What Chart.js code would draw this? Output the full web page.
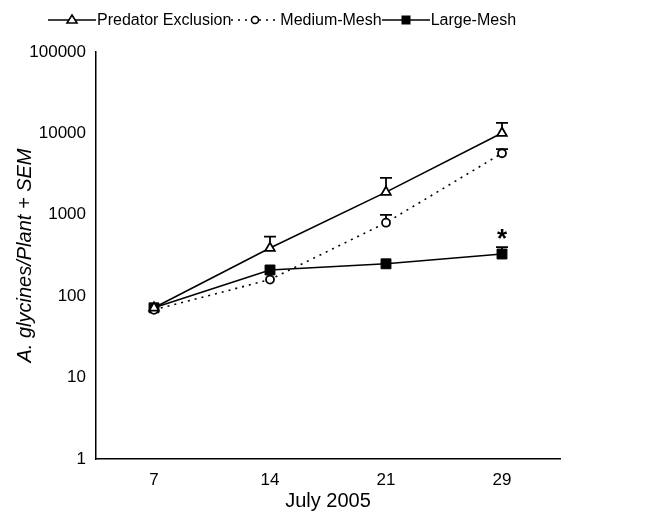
<!DOCTYPE html>
<html>
<head>
<meta charset="utf-8">
<script src="https://cdn.jsdelivr.net/npm/chart.js@4"></script>
<style>
  html, body { margin: 0; padding: 0; background: #fff; }
  #wrap { position: relative; width: 653px; height: 511px; }
  #legend { position: absolute; left: 48px; top: 10px; display: flex; align-items: center;
            font-family: 'Liberation Sans', Arial, sans-serif; font-size: 16px; color: #000; }
  #legend .item { display: flex; align-items: center; }
  #legend span { margin-left: 1px; line-height: 20px; }
</style>
</head>
<body>
<div id="wrap">
  <canvas id="aphidChart" width="653" height="511"></canvas>
  <div id="legend"></div>
</div>
<script>
// Sample dates (July 2005)
const days = ['7', '14', '21', '29'];

// Mean A. glycines per plant
const predatorExclusion = [72, 390, 1900, 10100];
const mediumMesh = [68, 160, 800, 5700];
const largeMesh = [72, 210, 250, 330];

// Mean + SEM (top of error bar)
const predatorExclusionTop = [72, 540, 2850, 13500];
const mediumMeshTop = [68, 160, 1000, 6400];
const largeMeshTop = [72, 210, 250, 400];

// Significance marks
const sigMarks = ['', '', '', '*'];

const yTicks = [1, 10, 100, 1000, 10000, 100000];

const FONT = "'Liberation Sans', Arial, sans-serif";
Chart.defaults.font.family = FONT;
Chart.defaults.color = '#000';

const datasets = [
    {
        label: 'Predator Exclusion',
        data: predatorExclusion,
        errTop: predatorExclusionTop,
        borderColor: '#000',
        borderWidth: 1.6,
        pointStyle: 'triangle',
        pointRadius: 5.5,
        pointBackgroundColor: '#fff',
        pointBorderColor: '#000',
        pointBorderWidth: 1.8,
        fill: false
    },
    {
        label: 'Medium-Mesh',
        data: mediumMesh,
        errTop: mediumMeshTop,
        borderColor: '#000',
        borderWidth: 1.6,
        borderDash: [2, 5],
        pointStyle: 'circle',
        pointRadius: 4,
        pointBackgroundColor: '#fff',
        pointBorderColor: '#000',
        pointBorderWidth: 1.8,
        fill: false
    },
    {
        label: 'Large-Mesh',
        data: largeMesh,
        errTop: largeMeshTop,
        sig: sigMarks,
        borderColor: '#000',
        borderWidth: 1.6,
        pointStyle: 'rect',
        pointRadius: 7,
        pointBackgroundColor: '#000',
        pointBorderColor: '#000',
        pointBorderWidth: 1,
        fill: false
    }
];

// Draw + SEM error bars and significance stars
const errorBars = {
    id: 'errorBars',
    beforeDatasetsDraw(chart) {
        const ctx = chart.ctx;
        const y = chart.scales.y;
        ctx.save();
        ctx.strokeStyle = '#000';
        ctx.lineWidth = 1.8;
        chart.data.datasets.forEach((ds, i) => {
            const meta = chart.getDatasetMeta(i);
            meta.data.forEach((pt, j) => {
                const top = ds.errTop[j];
                if (top <= ds.data[j]) return;
                const yTop = y.getPixelForValue(top);
                ctx.beginPath();
                ctx.moveTo(pt.x, pt.y);
                ctx.lineTo(pt.x, yTop);
                ctx.moveTo(pt.x - 6, yTop);
                ctx.lineTo(pt.x + 6, yTop);
                ctx.stroke();
            });
        });
        ctx.restore();
    },
    afterDatasetsDraw(chart) {
        const ctx = chart.ctx;
        const y = chart.scales.y;
        ctx.save();
        ctx.fillStyle = '#000';
        ctx.font = 'bold 26px ' + FONT;
        ctx.textAlign = 'center';
        ctx.textBaseline = 'middle';
        chart.data.datasets.forEach((ds, i) => {
            if (!ds.sig) return;
            const meta = chart.getDatasetMeta(i);
            meta.data.forEach((pt, j) => {
                if (!ds.sig[j]) return;
                ctx.fillText(ds.sig[j], pt.x, y.getPixelForValue(ds.errTop[j]) - 7);
            });
        });
        ctx.restore();
    }
};

const chart = new Chart(document.getElementById('aphidChart'), {
    type: 'line',
    data: { labels: days, datasets: datasets },
    plugins: [errorBars],
    options: {
        responsive: false,
        animation: false,
        layout: { padding: { top: 52, right: 93, left: 0, bottom: 0 } },
        plugins: {
            legend: { display: false },
            tooltip: { enabled: false }
        },
        scales: {
            x: {
                type: 'category',
                offset: true,
                grid: { display: false, drawTicks: false },
                border: { display: true, color: '#000', width: 1.5 },
                ticks: { font: { size: 17 }, padding: 11, color: '#000' },
                title: {
                    display: true,
                    text: 'July 2005',
                    font: { size: 20, lineHeight: 1 },
                    padding: { top: 0, bottom: 0 }
                },
                afterFit(scale) { scale.height = 52; }
            },
            y: {
                type: 'logarithmic',
                min: 1,
                max: 100000,
                grid: { display: false, drawTicks: false },
                border: { display: true, color: '#000', width: 1.5 },
                afterBuildTicks(scale) { scale.ticks = yTicks.map(v => ({ value: v })); },
                ticks: {
                    font: { size: 17 },
                    padding: 10,
                    color: '#000',
                    callback: v => String(v)
                },
                title: {
                    display: true,
                    text: 'A. glycines/Plant + SEM',
                    font: { size: 20, style: 'italic', lineHeight: 1 },
                    padding: { top: 15, bottom: 0 }
                },
                afterFit(scale) { scale.width = 96; }
            }
        }
    }
});

// HTML legend: line with centred marker, then the label
function markerSvg(ds) {
    const dash = ds.borderDash ? ' stroke-dasharray="' + ds.borderDash.join(' ') + '"' : '';
    let m = '';
    if (ds.pointStyle === 'triangle') {
        m = '<polygon points="24,3 29,11 19,11" fill="#fff" stroke="#000" stroke-width="1.6"/>';
    } else if (ds.pointStyle === 'circle') {
        m = '<circle cx="24" cy="8" r="3.5" fill="#fff" stroke="#000" stroke-width="1.6"/>';
    } else {
        m = '<rect x="19.5" y="3.5" width="9" height="9" fill="#000"/>';
    }
    return '<svg width="48" height="16"><line x1="0" y1="8" x2="48" y2="8" stroke="#000" stroke-width="1.6"' + dash + '/>' + m + '</svg>';
}
document.getElementById('legend').innerHTML = chart.data.datasets
    .map(ds => '<div class="item">' + markerSvg(ds) + '<span>' + ds.label + '</span></div>')
    .join('');
</script>
</body>
</html>
